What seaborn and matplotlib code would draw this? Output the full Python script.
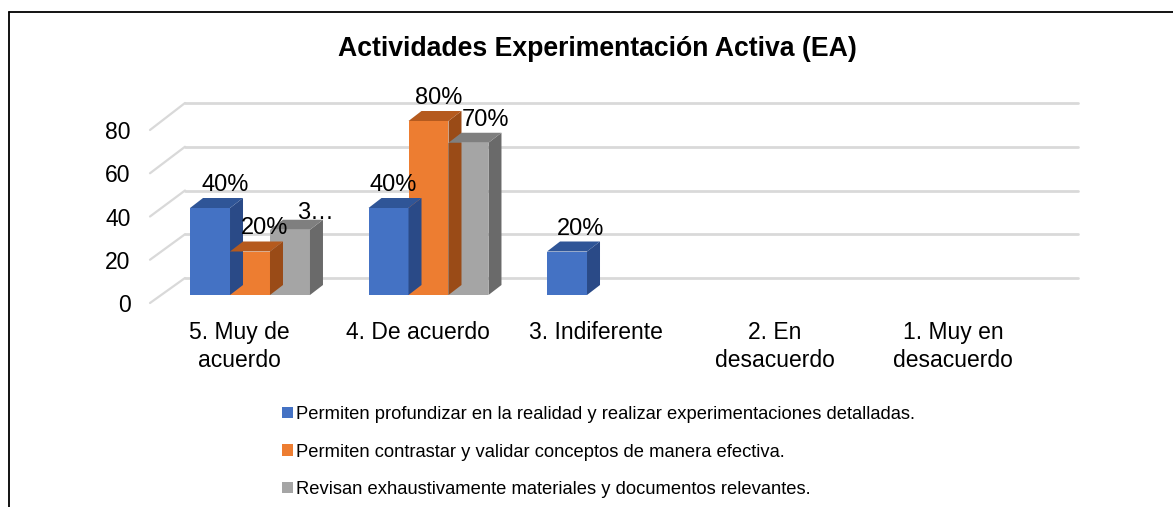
import matplotlib
matplotlib.use("Agg")
import matplotlib.pyplot as plt
from matplotlib.patches import Polygon
from matplotlib.lines import Line2D
import pandas as pd
import seaborn as sns

# ---------------- data ----------------
categories = ["5. Muy de\nacuerdo", "4. De acuerdo", "3. Indiferente",
              "2. En\ndesacuerdo", "1. Muy en\ndesacuerdo"]
series_names = [
    "Permiten profundizar en la realidad y realizar experimentaciones detalladas.",
    "Permiten contrastar y validar conceptos de manera efectiva.",
    "Revisan exhaustivamente materiales y documentos relevantes.",
]
values_profundizar = [40, 40, 20, 0, 0]
values_contrastar = [20, 80, 0, 0, 0]
values_revisan = [30, 70, 0, 0, 0]
y_ticks = [0, 20, 40, 60, 80]
title = "Actividades Experimentación Activa (EA)"
# label text as shown (one label is truncated in the original)
label_overrides = {(2, 0): "3…"}

# ---------------- style ----------------
front_colors = ["#4472C4", "#ED7D31", "#A5A5A5"]
top_colors = ["#2F5597", "#B55A1E", "#7F7F7F"]
side_colors = ["#2A4A87", "#9A4B17", "#6A6A6A"]
grid_color = "#D9D9D9"
# label offsets (pixels) relative to the top-centre of each bar front
label_offsets = {(0, 0): (15, 23), (1, 0): (15, 23.5), (2, 0): (25, 17),
                 (0, 1): (5, 23), (1, 1): (10, 23), (2, 1): (17, 22.5),
                 (0, 2): (14, 22.5)}

sns.set_style("white", {"text.color": "black", "xtick.color": "black",
                        "ytick.color": "black", "axes.labelcolor": "black"})
plt.rcParams["font.family"] = ["Liberation Sans", "DejaVu Sans"]
plt.rcParams["text.color"] = "black"

W, H = 1173, 507
fig = plt.figure(figsize=(W / 100, H / 100), dpi=100)


def px_axes(left, top, width, height):
    return fig.add_axes([left / W, 1 - (top + height) / H, width / W, height / H])


df = pd.DataFrame({
    "category": categories * 3,
    "series": [series_names[0]] * 5 + [series_names[1]] * 5 + [series_names[2]] * 5,
    "value": values_profundizar + values_contrastar + values_revisan,
})

# back wall (gridlines)
ax_back = px_axes(185, 103, 893, 175)
ax_back.set_xlim(-0.5, 4.5)
ax_back.set_ylim(0, 80)
ax_back.set_yticks(y_ticks)
ax_back.set_xticks([])
ax_back.tick_params(axis="y", length=0, labelleft=False)
ax_back.grid(axis="y", color=grid_color, linewidth=2.0)
for gl in ax_back.get_ygridlines():
    gl.set_clip_on(False)
for s in ax_back.spines.values():
    s.set_visible(False)

# front plane (axis labels)
ax_front = px_axes(150, 130, 892.5, 173)
ax_front.set_xlim(-0.5, 4.5)
ax_front.set_ylim(0, 80)
ax_front.patch.set_alpha(0)
ax_front.set_yticks(y_ticks)
ax_front.set_yticklabels([str(t) for t in y_ticks], fontsize=16.5, color="black")
ax_front.set_xticks(range(len(categories)))
ax_front.set_xticklabels(categories, fontsize=16.5, linespacing=1.26, color="black")
ax_front.tick_params(axis="y", length=0, pad=14)
ax_front.tick_params(axis="x", length=0, pad=13)
for s in ax_front.spines.values():
    s.set_visible(False)

# diagonal floor/wall lines on the left
for v in y_ticks:
    p0 = ax_front.transData.transform((-0.5, v))
    p1 = ax_back.transData.transform((-0.5, v))
    f0 = fig.transFigure.inverted().transform(p0)
    f1 = fig.transFigure.inverted().transform(p1)
    fig.add_artist(Line2D([f0[0], f1[0]], [f0[1], f1[1]], color=grid_color,
                          linewidth=1.6))

# bar plane
ax = px_axes(160.75, 121, 892.5, 174)
ax.patch.set_alpha(0)
sns.barplot(data=df, x="category", y="value", hue="series", order=categories,
            hue_order=series_names, palette=front_colors, width=0.672,
            saturation=1, linewidth=0, errorbar=None, ax=ax)
ax.set_xlim(-0.5, 4.5)
ax.set_ylim(0, 80)
ax.set_xticks([])
ax.set_yticks([])
ax.set_xlabel("")
ax.set_ylabel("")
for s in ax.spines.values():
    s.set_visible(False)

ddx = 13 / 178.5
ddy = 10 / 2.175
for hi, cont in enumerate(ax.containers):
    for ci, bar in enumerate(cont.patches):
        h = bar.get_height()
        if h <= 0:
            continue
        x0 = bar.get_x()
        x1 = x0 + bar.get_width()
        top = Polygon([(x0, h), (x1, h), (x1 + ddx, h + ddy), (x0 + ddx, h + ddy)],
                      closed=True, facecolor=top_colors[hi], edgecolor="none",
                      clip_on=False, zorder=bar.get_zorder())
        side = Polygon([(x1, 0), (x1 + ddx, ddy), (x1 + ddx, h + ddy), (x1, h)],
                       closed=True, facecolor=side_colors[hi], edgecolor="none",
                       clip_on=False, zorder=bar.get_zorder())
        ax.add_patch(side)
        ax.add_patch(top)
        text = label_overrides.get((hi, ci), f"{int(h)}%")
        ox, oy = label_offsets.get((hi, ci), (6, 23))
        ax.annotate(text, xy=(x0 + bar.get_width() / 2, h),
                    xytext=(ox * 0.72, oy * 0.72), textcoords="offset points",
                    ha="center", va="center", fontsize=17, color="black",
                    annotation_clip=False, zorder=5)

# legend
handles, labels = ax.get_legend_handles_labels()
leg = ax.legend(handles, labels, loc="upper left",
                bbox_to_anchor=(282 / W, 1 - 406 / H), bbox_transform=fig.transFigure,
                frameon=False, fontsize=13.2, borderpad=0, borderaxespad=0,
                handlelength=0.6, handleheight=0.6, handletextpad=0.15,
                labelspacing=1.12)
for t in leg.get_texts():
    t.set_color("black")

# title
fig.text(597.5 / W, 1 - 49 / H, title, ha="center", va="center",
         fontsize=19.2, fontweight="bold", color="black")

# outer frame (partially visible)
fig.add_artist(Line2D([9 / W, 9 / W], [0, 1 - 12 / H], color="black", linewidth=1.3))
fig.add_artist(Line2D([9 / W, 1], [1 - 12 / H, 1 - 12 / H], color="black", linewidth=1.3))

fig.savefig("out.png", dpi=100)
